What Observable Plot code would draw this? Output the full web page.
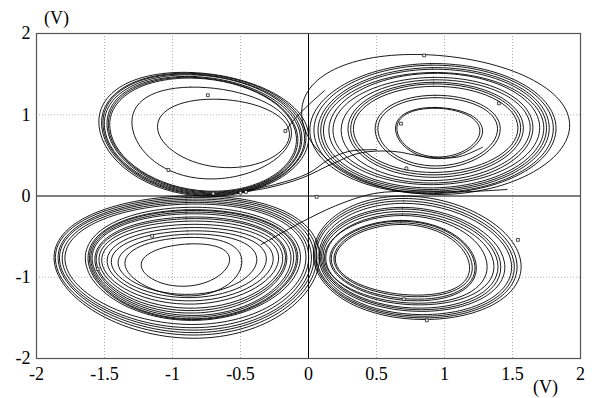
<!DOCTYPE html>
<html>
<head>
<meta charset="utf-8">
<script src="https://cdn.jsdelivr.net/npm/d3@7"></script>
<script src="https://cdn.jsdelivr.net/npm/@observablehq/plot@0.6"></script>
<style>
  html, body { margin: 0; padding: 0; background: #fff; }
</style>
</head>
<body>
<div id="chart"></div>
<script>
// Tick values
const xTicks = [-2, -1.5, -1, -0.5, 0, 0.5, 1, 1.5, 2];
const yTicks = [-2, -1, 0, 1, 2];
const unitLabel = "(V)";

// Loops: each loop = [leftmost, top, rightmost, bottom] points (V, V)
const topLeftLoops = [
  [[-1.54, 0.86], [-0.86, 1.52], [0.00, 0.76], [-0.77, 0.00]],
  [[-1.52, 0.85], [-0.85, 1.51], [-0.02, 0.76], [-0.76, 0.01]],
  [[-1.51, 0.85], [-0.85, 1.50], [-0.03, 0.75], [-0.76, 0.02]],
  [[-1.50, 0.84], [-0.84, 1.49], [-0.05, 0.75], [-0.75, 0.03]],
  [[-1.48, 0.84], [-0.84, 1.47], [-0.06, 0.74], [-0.75, 0.04]],
  [[-1.47, 0.83], [-0.84, 1.46], [-0.08, 0.74], [-0.74, 0.05]],
  [[-1.46, 0.83], [-0.83, 1.45], [-0.09, 0.74], [-0.74, 0.06]],
  [[-1.29, 0.80], [-0.87, 1.34], [-0.13, 0.84], [-0.70, 0.21]],
  [[-1.11, 0.84], [-0.65, 1.19], [-0.14, 0.77], [-0.62, 0.35]]
];
const topRightLoops = [
  [[-0.05, 1.00], [0.85, 1.74], [1.92, 0.89], [0.90, 0.02]],
  [[0.01, 0.80], [0.90, 1.63], [1.82, 0.84], [0.92, 0.03]],
  [[0.04, 0.80], [0.90, 1.61], [1.80, 0.84], [0.92, 0.04]],
  [[0.07, 0.80], [0.91, 1.58], [1.77, 0.84], [0.92, 0.06]],
  [[0.09, 0.80], [0.91, 1.56], [1.75, 0.84], [0.92, 0.08]],
  [[0.11, 0.80], [0.91, 1.52], [1.73, 0.84], [0.92, 0.10]],
  [[0.15, 0.81], [0.92, 1.51], [1.70, 0.84], [0.92, 0.14]],
  [[0.18, 0.81], [0.92, 1.46], [1.65, 0.84], [0.92, 0.16]],
  [[0.24, 0.81], [0.92, 1.43], [1.63, 0.84], [0.92, 0.19]],
  [[0.29, 0.82], [0.92, 1.40], [1.58, 0.84], [0.93, 0.23]],
  [[0.31, 0.82], [0.92, 1.38], [1.56, 0.84], [0.93, 0.26]],
  [[0.33, 0.82], [0.92, 1.35], [1.54, 0.84], [0.93, 0.29]],
  [[0.49, 0.82], [0.93, 1.24], [1.41, 0.83], [0.94, 0.34]],
  [[0.51, 0.82], [0.93, 1.21], [1.39, 0.83], [0.94, 0.37]],
  [[0.64, 0.82], [0.93, 1.09], [1.28, 0.81], [0.95, 0.46]],
  [[0.65, 0.82], [0.93, 1.08], [1.26, 0.81], [0.95, 0.48]]
];
const bottomLeftLoops = [
  [[-1.87, -0.80], [-0.90, 0.00], [0.08, -0.70], [-0.80, -1.75]],
  [[-1.86, -0.80], [-0.90, -0.02], [0.06, -0.70], [-0.80, -1.71]],
  [[-1.84, -0.80], [-0.90, -0.04], [0.04, -0.70], [-0.80, -1.68]],
  [[-1.83, -0.80], [-0.90, -0.06], [0.02, -0.71], [-0.80, -1.65]],
  [[-1.81, -0.80], [-0.90, -0.08], [0.00, -0.71], [-0.81, -1.62]],
  [[-1.79, -0.80], [-0.90, -0.10], [-0.02, -0.71], [-0.81, -1.58]],
  [[-1.64, -0.80], [-0.90, -0.14], [-0.06, -0.72], [-0.82, -1.53]],
  [[-1.62, -0.80], [-0.90, -0.17], [-0.08, -0.72], [-0.82, -1.52]],
  [[-1.61, -0.80], [-0.90, -0.18], [-0.09, -0.72], [-0.82, -1.51]],
  [[-1.60, -0.80], [-0.90, -0.20], [-0.11, -0.72], [-0.82, -1.49]],
  [[-1.59, -0.80], [-0.90, -0.22], [-0.13, -0.73], [-0.82, -1.47]],
  [[-1.57, -0.81], [-0.90, -0.26], [-0.16, -0.73], [-0.83, -1.44]],
  [[-1.56, -0.81], [-0.90, -0.28], [-0.17, -0.73], [-0.83, -1.41]],
  [[-1.54, -0.81], [-0.90, -0.31], [-0.19, -0.74], [-0.83, -1.38]],
  [[-1.52, -0.81], [-0.90, -0.35], [-0.22, -0.74], [-0.84, -1.33]],
  [[-1.48, -0.82], [-0.90, -0.39], [-0.26, -0.75], [-0.84, -1.29]],
  [[-1.45, -0.82], [-0.89, -0.43], [-0.31, -0.76], [-0.85, -1.25]],
  [[-1.40, -0.83], [-0.89, -0.47], [-0.38, -0.77], [-0.86, -1.21]],
  [[-1.35, -0.83], [-0.88, -0.51], [-0.49, -0.80], [-0.87, -1.23]],
  [[-1.23, -0.84], [-0.88, -0.59], [-0.58, -0.79], [-0.90, -1.11]]
];
const bottomRightLoops = [
  [[0.04, -0.80], [0.70, 0.00], [1.56, -0.80], [0.85, -1.52]],
  [[0.05, -0.80], [0.70, -0.03], [1.53, -0.80], [0.85, -1.50]],
  [[0.06, -0.80], [0.70, -0.06], [1.51, -0.81], [0.84, -1.48]],
  [[0.08, -0.81], [0.70, -0.09], [1.49, -0.81], [0.84, -1.46]],
  [[0.09, -0.81], [0.69, -0.14], [1.44, -0.81], [0.83, -1.42]],
  [[0.10, -0.81], [0.69, -0.16], [1.41, -0.81], [0.83, -1.40]],
  [[0.11, -0.81], [0.69, -0.19], [1.39, -0.81], [0.82, -1.38]],
  [[0.13, -0.82], [0.69, -0.22], [1.36, -0.81], [0.82, -1.34]],
  [[0.12, -0.81], [0.69, -0.24], [1.31, -0.81], [0.81, -1.32]],
  [[0.16, -0.82], [0.68, -0.30], [1.23, -0.82], [0.80, -1.29]],
  [[0.17, -0.82], [0.68, -0.31], [1.22, -0.82], [0.80, -1.27]],
  [[0.19, -0.82], [0.68, -0.33], [1.20, -0.82], [0.80, -1.24]],
  [[0.20, -0.82], [0.68, -0.35], [1.18, -0.82], [0.80, -1.22]]
];
// Open crossing paths between the lobes
const crossingPaths = [
  [[-0.52, 0.04], [-0.30, 0.10], [-0.05, 0.22], [0.18, 0.40], [0.38, 0.53], [0.62, 0.55], [0.87, 0.48], [1.10, 0.48], [1.28, 0.60]],
  [[-0.48, 0.06], [-0.25, 0.14], [0.00, 0.28], [0.15, 0.45], [0.30, 0.55], [0.50, 0.57]],
  [[-0.35, -0.60], [-0.06, -0.33], [0.20, -0.12], [0.48, 0.03], [0.80, 0.06], [1.10, 0.05], [1.46, 0.08]],
  [[-0.17, 0.80], [-0.10, 0.95], [0.00, 1.12], [0.12, 1.30]]
];
// Small square markers on the trajectory
const markers = [
  [-0.74, 1.24], [-1.03, 0.32], [-0.17, 0.80], [0.85, 1.73], [0.68, 0.89],
  [0.72, 0.34], [1.40, 1.14], [0.06, -0.01], [1.54, -0.54], [0.87, -1.53],
  [0.70, -1.27], [-1.15, -0.49], [-1.55, -0.90], [-0.50, 0.04], [-0.70, 0.03], [-0.46, 0.05]
];

const loopRows = [];
[topLeftLoops, topRightLoops, bottomLeftLoops, bottomRightLoops].forEach((group, g) =>
  group.forEach((loop, i) => loop.forEach(([x, y]) => loopRows.push({id: g + "-" + i, x, y})))
);
const pathRows = [];
crossingPaths.forEach((p, i) => p.forEach(([x, y]) => pathRows.push({id: i, x, y})));
const markerRows = markers.map(([x, y]) => ({x, y}));

const gridX = xTicks.filter(d => d !== 0 && Math.abs(d) !== 2);
const gridY = yTicks.filter(d => d !== 0 && Math.abs(d) !== 2);

const chart = Plot.plot({
  width: 596,
  height: 398,
  marginLeft: 36,
  marginRight: 16,
  marginTop: 33,
  marginBottom: 40,
  style: {fontFamily: "'Liberation Serif', 'Times New Roman', serif", fontSize: "18px", background: "#fff", color: "#000", overflow: "visible"},
  x: {domain: [-2, 2], ticks: xTicks, tickFormat: d => String(d), tickSize: 0, tickPadding: 9, label: null},
  y: {domain: [-2, 2], ticks: yTicks, tickFormat: d => String(d), tickSize: 0, tickPadding: 6, label: null},
  marks: [
    Plot.ruleX(gridX, {stroke: "#b0b0b0", strokeDasharray: "1,2", strokeWidth: 1}),
    Plot.ruleY(gridY, {stroke: "#b0b0b0", strokeDasharray: "1,2", strokeWidth: 1}),
    Plot.ruleX([0], {stroke: "#000", strokeWidth: 1}),
    Plot.ruleY([0], {stroke: "#000", strokeWidth: 1}),
    Plot.line(loopRows, {x: "x", y: "y", z: "id", curve: "cardinal-closed", tension: -0.657, stroke: "#000", strokeWidth: 0.9}),
    Plot.line(pathRows, {x: "x", y: "y", z: "id", curve: "catmull-rom", stroke: "#000", strokeWidth: 0.9}),
    Plot.dot(markerRows, {x: "x", y: "y", symbol: "square", r: 1.6, stroke: "#000", fill: "#fff", strokeWidth: 0.7}),
    Plot.frame({stroke: "#555", strokeWidth: 1.2}),
    Plot.text([unitLabel], {text: d => d, frameAnchor: "top-left", textAnchor: "middle", lineAnchor: "middle", dx: 20, dy: -15, fontSize: 18}),
    Plot.text([unitLabel], {text: d => d, frameAnchor: "bottom-right", textAnchor: "middle", lineAnchor: "middle", dx: -35, dy: 29, fontSize: 18})
  ]
});
document.getElementById("chart").appendChild(chart);
</script>
</body>
</html>
